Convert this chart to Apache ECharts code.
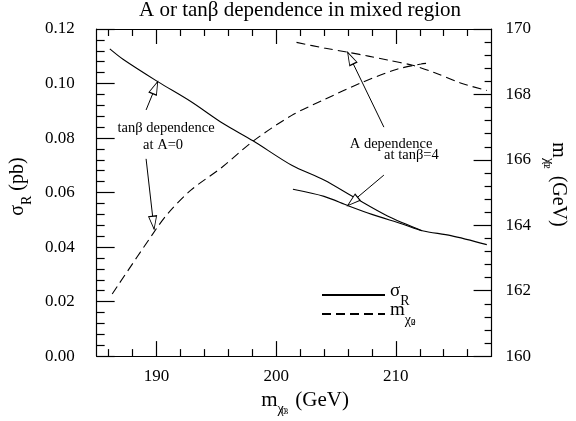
<!DOCTYPE html>
<html><head><meta charset="utf-8">
<script src="https://cdn.jsdelivr.net/npm/echarts@6/dist/echarts.min.js"></script>
<style>html,body{margin:0;padding:0;background:#fff}#c{width:576px;height:421px}</style>
</head><body><div id="c"></div>
<script>
// ---------- data ----------
const titleText = 'A or tanβ dependence in mixed region';
const xMajorTicks = [190, 200, 210];
const xMinorTicks = [186, 188, 192, 194, 196, 198, 202, 204, 206, 208, 212, 214, 216];

// sigma_R, tanβ dependence at A=0 (left axis, pb)
const sigTanbX = [186.1, 187.2, 190.1, 192.9, 195.5, 198.1, 201.3, 204.0, 206.6, 209.3, 212.2];
const sigTanbY = [0.1127, 0.1089, 0.1007, 0.0933, 0.0855, 0.0789, 0.0700, 0.0646, 0.0580, 0.0514, 0.0460];
// sigma_R, A dependence at tanβ=4
const sigAX = [201.4, 204.0, 206.0, 208.0, 210.6, 212.2, 214.6, 217.6];
const sigAY = [0.0612, 0.0586, 0.0552, 0.0520, 0.0484, 0.0460, 0.0442, 0.0409];
// m_chi2, tanβ dependence at A=0 (right axis, GeV)
const mTanbX = [186.3, 190.0, 191.0, 192.9, 195.5, 198.1, 201.3, 204.0, 207.2, 210.1, 212.1, 212.6];
const mTanbY = [161.9, 163.9, 164.38, 165.08, 165.78, 166.58, 167.36, 167.84, 168.37, 168.77, 168.93, 168.95];
// m_chi2, A dependence at tanβ=4
const mAX = [201.7, 204.0, 206.0, 207.7, 209.3, 211.4, 213.2, 215.4, 217.6];
const mAY = [169.59, 169.42, 169.29, 169.17, 169.05, 168.89, 168.67, 168.35, 168.12];

// annotation arrows: [tailX, tailY, tipX, tipY, yAxisIndex]
const arrows = [
  [189.13, 0.0903, 190.1, 0.1007, 0],
  [189.13, 166.03, 189.8, 163.88, 1],
  [209.0, 167.0, 205.97, 169.29, 1],
  [209.0, 0.0664, 205.97, 0.0552, 0]
];
// annotation texts: [x, y(left axis), text]
const notes = [
  [190.8, 0.0835, 'tanβ dependence'],
  [190.55, 0.0775, 'at A=0'],
  [209.6, 0.0777, 'A dependence'],
  [211.3, 0.0736, 'at tanβ=4']
];

// ---------- chart ----------
const FONT = "'Liberation Serif', 'Times New Roman', serif";
const zip = (a, b) => a.map((v, i) => [v, b[i]]);
const chart = echarts.init(document.getElementById('c'), null, {renderer: 'canvas'});

function rich(big) {
  return {
    a: {fontFamily: FONT, fontSize: big, lineHeight: 26, verticalAlign: 'top', color: '#000'},
    b: {fontFamily: FONT, fontSize: 14, lineHeight: 12, verticalAlign: 'bottom', color: '#000'},
    c: {fontFamily: FONT, fontSize: 9, lineHeight: 21, verticalAlign: 'bottom', color: '#000', width: 0},
    d: {fontFamily: FONT, fontSize: 9, lineHeight: 5, verticalAlign: 'bottom', color: '#000'},
    e: {fontFamily: FONT, fontSize: 9, width: 7}
  };
}

function xAxisDef(pos, major, withLabels) {
  return {
    type: 'value', min: 185, max: 218, position: pos,
    axisLine: {show: major, lineStyle: {color: '#000', width: 1.2}},
    axisTick: {show: true, inside: true, length: major ? 15 : 7,
               customValues: major ? xMajorTicks : xMinorTicks,
               lineStyle: {color: '#000', width: 1.2}},
    axisLabel: {show: withLabels, customValues: xMajorTicks, margin: 12,
                fontFamily: FONT, fontSize: 17, color: '#000'},
    splitLine: {show: false},
    name: withLabels ? '{a|m}{b|χ}{c|0}{d|3}{e| }{a|(GeV)}' : '',
    nameLocation: 'middle', nameGap: 21,
    nameTextStyle: {fontFamily: FONT, fontSize: 21, color: '#000', rich: rich(21), padding: [0, 0, 0, 22]}
  };
}

const series = [
  {name: 'sigma', type: 'line', xAxisIndex: 0, yAxisIndex: 0, data: zip(sigTanbX, sigTanbY),
   symbol: 'none', smooth: 0.3, lineStyle: {color: '#000', width: 1.1}, z: 3},
  {name: 'sigmaA', type: 'line', xAxisIndex: 0, yAxisIndex: 0, data: zip(sigAX, sigAY),
   symbol: 'none', smooth: 0.3, lineStyle: {color: '#000', width: 1.1}, z: 3},
  {name: 'mass', type: 'line', xAxisIndex: 0, yAxisIndex: 1, data: zip(mTanbX, mTanbY),
   symbol: 'none', smooth: 0.3, lineStyle: {color: '#000', width: 1.1, type: [9, 5]}, z: 3},
  {name: 'massA', type: 'line', xAxisIndex: 0, yAxisIndex: 1, data: zip(mAX, mAY),
   symbol: 'none', smooth: 0.3, lineStyle: {color: '#000', width: 1.1, type: [9, 5]}, z: 3}
];
arrows.forEach((a, i) => {
  series.push({name: 'arrow' + i, type: 'line', xAxisIndex: 0, yAxisIndex: a[4],
    data: [[a[0], a[1]], [a[2], a[3]]], symbol: 'none', silent: true,
    lineStyle: {color: '#000', width: 1}, z: 4});
});

const option = {
  animation: false,
  backgroundColor: '#fff',
  title: {text: titleText, left: 139, top: 0, padding: 0,
          textStyle: {fontFamily: FONT, fontSize: 21, fontWeight: 'normal', color: '#000'}},
  grid: {left: 94, right: 66, top: 29, bottom: 58, containLabel: false},
  legend: {
    data: ['sigma', 'mass'], orient: 'vertical', left: 321, top: 282, itemGap: -7, padding: 0,
    itemWidth: 63, itemHeight: 12,
    itemStyle: {opacity: 0, color: 'rgba(0,0,0,0)', borderWidth: 0},
    formatter: n => n === 'sigma' ? '{a|σ}{b|R}' : '{a|m}{b|χ}{c|0}{d|2}',
    textStyle: {fontFamily: FONT, fontSize: 19, color: '#000', rich: rich(19)},
    selectedMode: false
  },
  xAxis: [
    xAxisDef('bottom', true, true),
    xAxisDef('bottom', false, false),
    xAxisDef('top', true, false),
    xAxisDef('top', false, false)
  ],
  yAxis: [
    {type: 'value', min: 0, max: 0.12, interval: 0.02, position: 'left',
     axisLine: {show: true, lineStyle: {color: '#000', width: 1.2}},
     axisTick: {inside: true, length: 18, lineStyle: {color: '#000', width: 1.2}},
     minorTick: {show: true, splitNumber: 5, length: 8, lineStyle: {color: '#000', width: 1.2}},
     axisLabel: {margin: 22, formatter: v => v.toFixed(2), fontFamily: FONT, fontSize: 17, color: '#000'},
     splitLine: {show: false},
     name: '{a|σ}{b|R}{a| (pb)}', nameLocation: 'middle', nameGap: 56, nameRotate: 90,
     nameTextStyle: {fontFamily: FONT, fontSize: 20, color: '#000', rich: rich(20), padding: [0, 0, 0, 12]}},
    {type: 'value', min: 160, max: 170, interval: 2, position: 'right',
     axisLine: {show: true, lineStyle: {color: '#000', width: 1.2}},
     axisTick: {inside: true, length: 18, lineStyle: {color: '#000', width: 1.2}},
     minorTick: {show: true, splitNumber: 5, length: 7, lineStyle: {color: '#000', width: 1.2}},
     axisLabel: {margin: 14, fontFamily: FONT, fontSize: 17, color: '#000'},
     splitLine: {show: false},
     name: '{a|m}{b|χ}{c|0}{d|2}{e| }{a|(GeV)}', nameLocation: 'middle', nameGap: 40, nameRotate: -90,
     nameTextStyle: {fontFamily: FONT, fontSize: 20, color: '#000', rich: rich(20), padding: [0, 16, 0, 0]}}
  ],
  series: series
};
chart.setOption(option);

// arrowheads and note texts placed from data coordinates
const HEAD_L = 13, HEAD_W = 8;
const heads = arrows.map(a => {
  const finder = {xAxisIndex: 0, yAxisIndex: a[4]};
  const t = chart.convertToPixel(finder, [a[0], a[1]]);
  const p = chart.convertToPixel(finder, [a[2], a[3]]);
  const dx = p[0] - t[0], dy = p[1] - t[1];
  const len = Math.hypot(dx, dy);
  const ux = dx / len, uy = dy / len;
  const c = chart.convertFromPixel(finder, [p[0] - ux * HEAD_L / 2, p[1] - uy * HEAD_L / 2]);
  const ang = Math.atan2(-dy, dx) * 180 / Math.PI;
  return {type: 'scatter', xAxisIndex: 0, yAxisIndex: a[4], silent: true, z: 6,
    data: [c], symbol: 'triangle', symbolSize: [HEAD_W, HEAD_L], symbolRotate: ang - 90,
    itemStyle: {color: '#fff', borderColor: '#000', borderWidth: 1, opacity: 1}};
});
const graphics = notes.map(n => {
  const p = chart.convertToPixel({xAxisIndex: 0, yAxisIndex: 0}, [n[0], n[1]]);
  return {type: 'text', x: p[0], y: p[1], z: 10,
    style: {text: n[2], font: "14.5px 'Liberation Serif', serif", fill: '#000',
            align: 'center', verticalAlign: 'middle'}};
});
chart.setOption({series: series.concat(heads), graphic: graphics});
</script>
</body></html>
